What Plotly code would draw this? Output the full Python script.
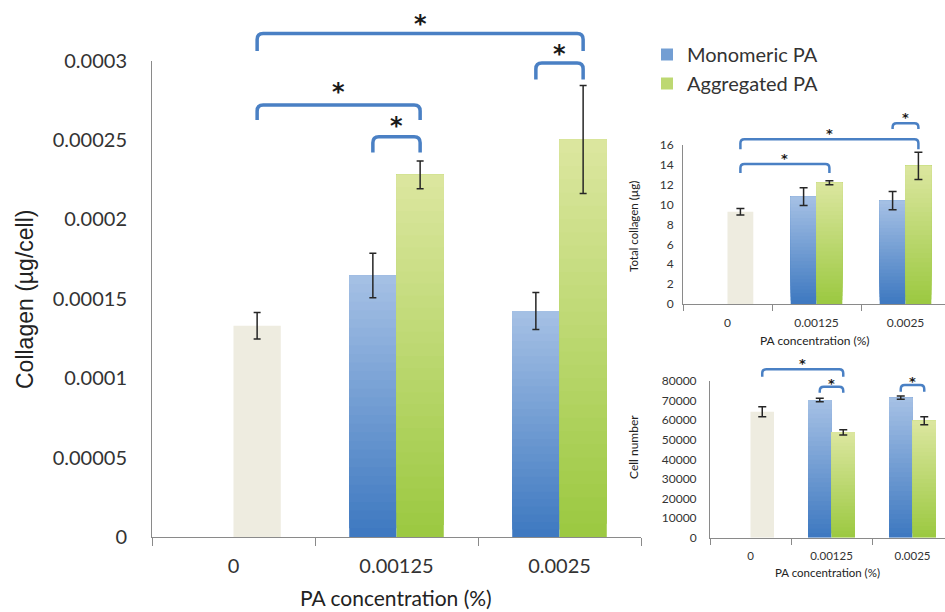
import plotly.graph_objects as go

# ---------------- data ----------------
categories = ["0", "0.00125", "0.0025"]
treated = ["0.00125", "0.0025"]

# main panel: collagen per cell (ug/cell)
control_per_cell = 1.33e-4
control_per_cell_err = 8.4e-6
mono_per_cell = [1.647e-4, 1.423e-4]
mono_per_cell_err = [1.4e-5, 1.17e-5]
agg_per_cell = [2.28e-4, 2.503e-4]
agg_per_cell_err = [8.8e-6, 3.4e-5]
main_ticks = [0, 5e-5, 1e-4, 1.5e-4, 2e-4, 2.5e-4, 3e-4]
main_ticktext = ["0", "0.00005", "0.0001", "0.00015", "0.0002", "0.00025", "0.0003"]

# inset 1: total collagen (ug)
control_total = 9.28
control_total_err = 0.33
mono_total = [10.8, 10.4]
mono_total_err = [0.9, 0.92]
agg_total = [12.2, 13.9]
agg_total_err = [0.2, 1.37]
total_ticks = [0, 2, 4, 6, 8, 10, 12, 14, 16]

# inset 2: cell number
control_cells = 64300
control_cells_err = 2550
mono_cells = [70300, 71500]
mono_cells_err = [850, 850]
agg_cells = [53800, 59700]
agg_cells_err = [1360, 2000]
cell_ticks = [0, 10000, 20000, 30000, 40000, 50000, 60000, 70000, 80000]

# significance brackets: (from, to, top, leg end, star height) in data units
main_brackets = [(0.145, 2.145, 3.17e-4, 3.06e-4, 3.27e-4),
                 (1.855, 2.145, 2.985e-4, 2.88e-4, 3.08e-4),
                 (0.145, 1.145, 2.72e-4, 2.625e-4, 2.84e-4),
                 (0.855, 1.145, 2.52e-4, 2.42e-4, 2.625e-4)]
total_brackets = [(0.145, 2.145, 16.57, 15.56, 17.5),
                  (0.145, 1.145, 14.08, 13.18, 15.0),
                  (1.855, 2.145, 18.2, 17.6, 19.1)]
cell_brackets = [(0.145, 1.145, 86000, 82200, 90500),
                 (0.855, 1.145, 77100, 74000, 80500),
                 (1.855, 2.145, 77900, 74500, 81400)]

# ---------------- style ----------------
W, H = 945, 612
BLUE_BOT, BLUE_TOP = (61, 120, 192), (166, 193, 229)
GREEN_BOT, GREEN_TOP = (155, 200, 64), (220, 231, 160)
BEIGE = "#eeece0"
AXIS = "#8a8a8a"
TXT = "#333333"
BR = "#4a80c4"
FONT = "Lato"
BW = 0.29
NSEG = 30

panels = {
    "main": dict(xd=[152 / W, 641 / W], yd=[1 - 537 / H, 1 - 60.5 / H],
                 xr=[-0.5, 2.5], yr=[0, 3e-4]),
    "total": dict(xd=[683 / W, 1.0], yd=[1 - 304 / H, 1 - 145 / H],
                  xr=[-0.5, -0.5 + (W - 683) / 89.0], yr=[0, 16]),
    "cells": dict(xd=[710 / W, 1.0], yd=[1 - 537.7 / H, 1 - 381 / H],
                  xr=[-0.5, -0.5 + (W - 710) / 81.0], yr=[0, 80000]),
}


def mix(c0, c1, t):
    return "rgb(%d,%d,%d)" % tuple(round(a + (b - a) * t) for a, b in zip(c0, c1))


fig = go.Figure()


def gradient_bars(xref, yref, name, vals, c_bot, c_top, offset, legend):
    # each layer runs from its own base up to the bar's value; lighter layers
    # are drawn over darker ones, giving a bottom-dark / top-light gradient
    xs = [categories.index(c) for c in treated]
    for k in range(NSEG):
        t = (k + 0.5) / NSEG
        fig.add_trace(go.Bar(
            x=xs, y=[v * (NSEG - k) / NSEG for v in vals], base=[v * k / NSEG for v in vals],
            width=BW, offset=offset, marker=dict(color=mix(c_bot, c_top, t), line=dict(width=0)),
            xaxis=xref, yaxis=yref, name=name, legendgroup=name,
            showlegend=(legend and k == NSEG // 2), hoverinfo="skip"))


def panel(xref, yref, ctrl, ctrl_err, mono, mono_err, agg, agg_err, legend, cap):
    fig.add_trace(go.Bar(x=[categories.index("0")], y=[ctrl], width=BW, offset=0,
                         marker=dict(color=BEIGE, line=dict(width=0)),
                         xaxis=xref, yaxis=yref, showlegend=False, name="Control"))
    gradient_bars(xref, yref, "Monomeric PA", mono, BLUE_BOT, BLUE_TOP, -BW, legend)
    gradient_bars(xref, yref, "Aggregated PA", agg, GREEN_BOT, GREEN_TOP, 0, legend)
    xs = [categories.index("0") + BW / 2]
    ys = [ctrl]
    es = [ctrl_err]
    for i, c in enumerate(treated):
        ci = categories.index(c)
        xs += [ci - BW / 2, ci + BW / 2]
        ys += [mono[i], agg[i]]
        es += [mono_err[i], agg_err[i]]
    fig.add_trace(go.Scatter(x=xs, y=ys, mode="markers",
                             marker=dict(size=1, color="rgba(0,0,0,0)"),
                             error_y=dict(type="data", array=es, color="#262626",
                                          thickness=1.5, width=cap),
                             xaxis=xref, yaxis=yref, showlegend=False, hoverinfo="skip"))


panel("x", "y", control_per_cell, control_per_cell_err, mono_per_cell, mono_per_cell_err,
      agg_per_cell, agg_per_cell_err, True, 3.5)
panel("x2", "y2", control_total, control_total_err, mono_total, mono_total_err,
      agg_total, agg_total_err, False, 4)
panel("x3", "y3", control_cells, control_cells_err, mono_cells, mono_cells_err,
      agg_cells, agg_cells_err, False, 4)


def xaxis_cfg(p, fs, ticklen, standoff):
    return dict(domain=p["xd"], range=p["xr"], type="linear", tickmode="array",
                tickvals=list(range(len(categories))), ticktext=categories, ticks="",
                showgrid=False, zeroline=False, showline=True, linecolor=AXIS, linewidth=1,
                tickfont=dict(family=FONT, size=fs, color=TXT), ticklabelstandoff=standoff,
                minor=dict(tickmode="array", tickvals=[-0.5, 0.5, 1.5, 2.5], ticks="outside",
                           ticklen=ticklen, tickcolor=AXIS, tickwidth=1, showgrid=False),
                automargin=False, fixedrange=True)


def yaxis_cfg(p, tv, tt, fs, standoff, anchor):
    return dict(domain=p["yd"], range=p["yr"], tickmode="array", tickvals=tv, ticktext=tt,
                ticks="", showgrid=False, zeroline=False, showline=True, linecolor=AXIS,
                linewidth=1, tickfont=dict(family=FONT, size=fs, color=TXT),
                ticklabelstandoff=standoff, anchor=anchor, automargin=False, fixedrange=True)


pm, pt, pc = panels["main"], panels["total"], panels["cells"]
fig.update_layout(
    width=W, height=H, margin=dict(l=0, r=0, t=0, b=0, autoexpand=False),
    paper_bgcolor="white", plot_bgcolor="rgba(0,0,0,0)",
    barmode="overlay", showlegend=True,
    xaxis=dict(xaxis_cfg(pm, 20, 8, 11), anchor="y"),
    yaxis=yaxis_cfg(pm, main_ticks, main_ticktext, 20, 20, "x"),
    xaxis2=dict(xaxis_cfg(pt, 12, 6, 8), anchor="y2"),
    yaxis2=yaxis_cfg(pt, total_ticks, [str(v) for v in total_ticks], 12, 6, "x2"),
    xaxis3=dict(xaxis_cfg(pc, 11.5, 6, 7), anchor="y3"),
    yaxis3=yaxis_cfg(pc, cell_ticks, [str(v) for v in cell_ticks], 12, 10, "x3"),
    legend=dict(x=647 / W, y=1 - 35 / H, xanchor="left", yanchor="top",
                font=dict(family=FONT, size=20, color=TXT), bgcolor="rgba(0,0,0,0)",
                tracegroupgap=0, itemclick=False),
)


def to_px(p, x, y):
    px = p["xd"][0] + (x - p["xr"][0]) / (p["xr"][1] - p["xr"][0]) * (p["xd"][1] - p["xd"][0])
    py = p["yd"][0] + (y - p["yr"][0]) / (p["yr"][1] - p["yr"][0]) * (p["yd"][1] - p["yd"][0])
    return px, py


shapes, annos = [], []


def add_brackets(p, brs, r, lw, star_fs):
    rx, ry = r / W, r / H
    for x0, x1, yt, yl, ys in brs:
        a0, t = to_px(p, x0, yt)
        a1, _ = to_px(p, x1, yt)
        _, l = to_px(p, x0, yl)
        path = (f"M{a0},{l} L{a0},{t - ry} Q{a0},{t} {a0 + rx},{t} "
                f"L{a1 - rx},{t} Q{a1},{t} {a1},{t - ry} L{a1},{l}")
        shapes.append(dict(type="path", path=path, xref="paper", yref="paper",
                           line=dict(color=BR, width=lw), layer="above"))
        sx, sy = to_px(p, (x0 + x1) / 2, ys)
        annos.append(dict(x=sx, y=sy, xref="paper", yref="paper", text="<b>*</b>",
                          showarrow=False, xanchor="center", yanchor="middle",
                          yshift=-0.25 * star_fs,
                          font=dict(family="DejaVu Sans", size=star_fs, color="#1a1a1a")))


add_brackets(pm, main_brackets, 6, 3.5, 24)
add_brackets(pt, total_brackets, 4, 2.5, 13)
add_brackets(pc, cell_brackets, 4, 2.5, 13)


def title(text, x, y, fs, angle=0, family=FONT):
    annos.append(dict(x=x / W, y=1 - y / H, xref="paper", yref="paper", text=text,
                      showarrow=False, xanchor="center", yanchor="middle", textangle=angle,
                      font=dict(family=family, size=fs, color="#222222")))


title("Collagen (µg/cell)", 25, 300, 23, -90, "Liberation Sans")
title("PA concentration (%)", 396, 597, 21)
title("Total collagen (µg)", 633, 227, 11.5, -90)
title("PA concentration (%)", 815, 340, 12)
title("Cell number", 633, 447, 12, -90)
title("PA concentration (%)", 827, 572, 11.5)

fig.update_layout(shapes=shapes, annotations=annos)
fig.write_html("out.html", config={"displayModeBar": False},
               post_script="document.body.style.margin='0px';document.body.style.overflow='hidden';")
